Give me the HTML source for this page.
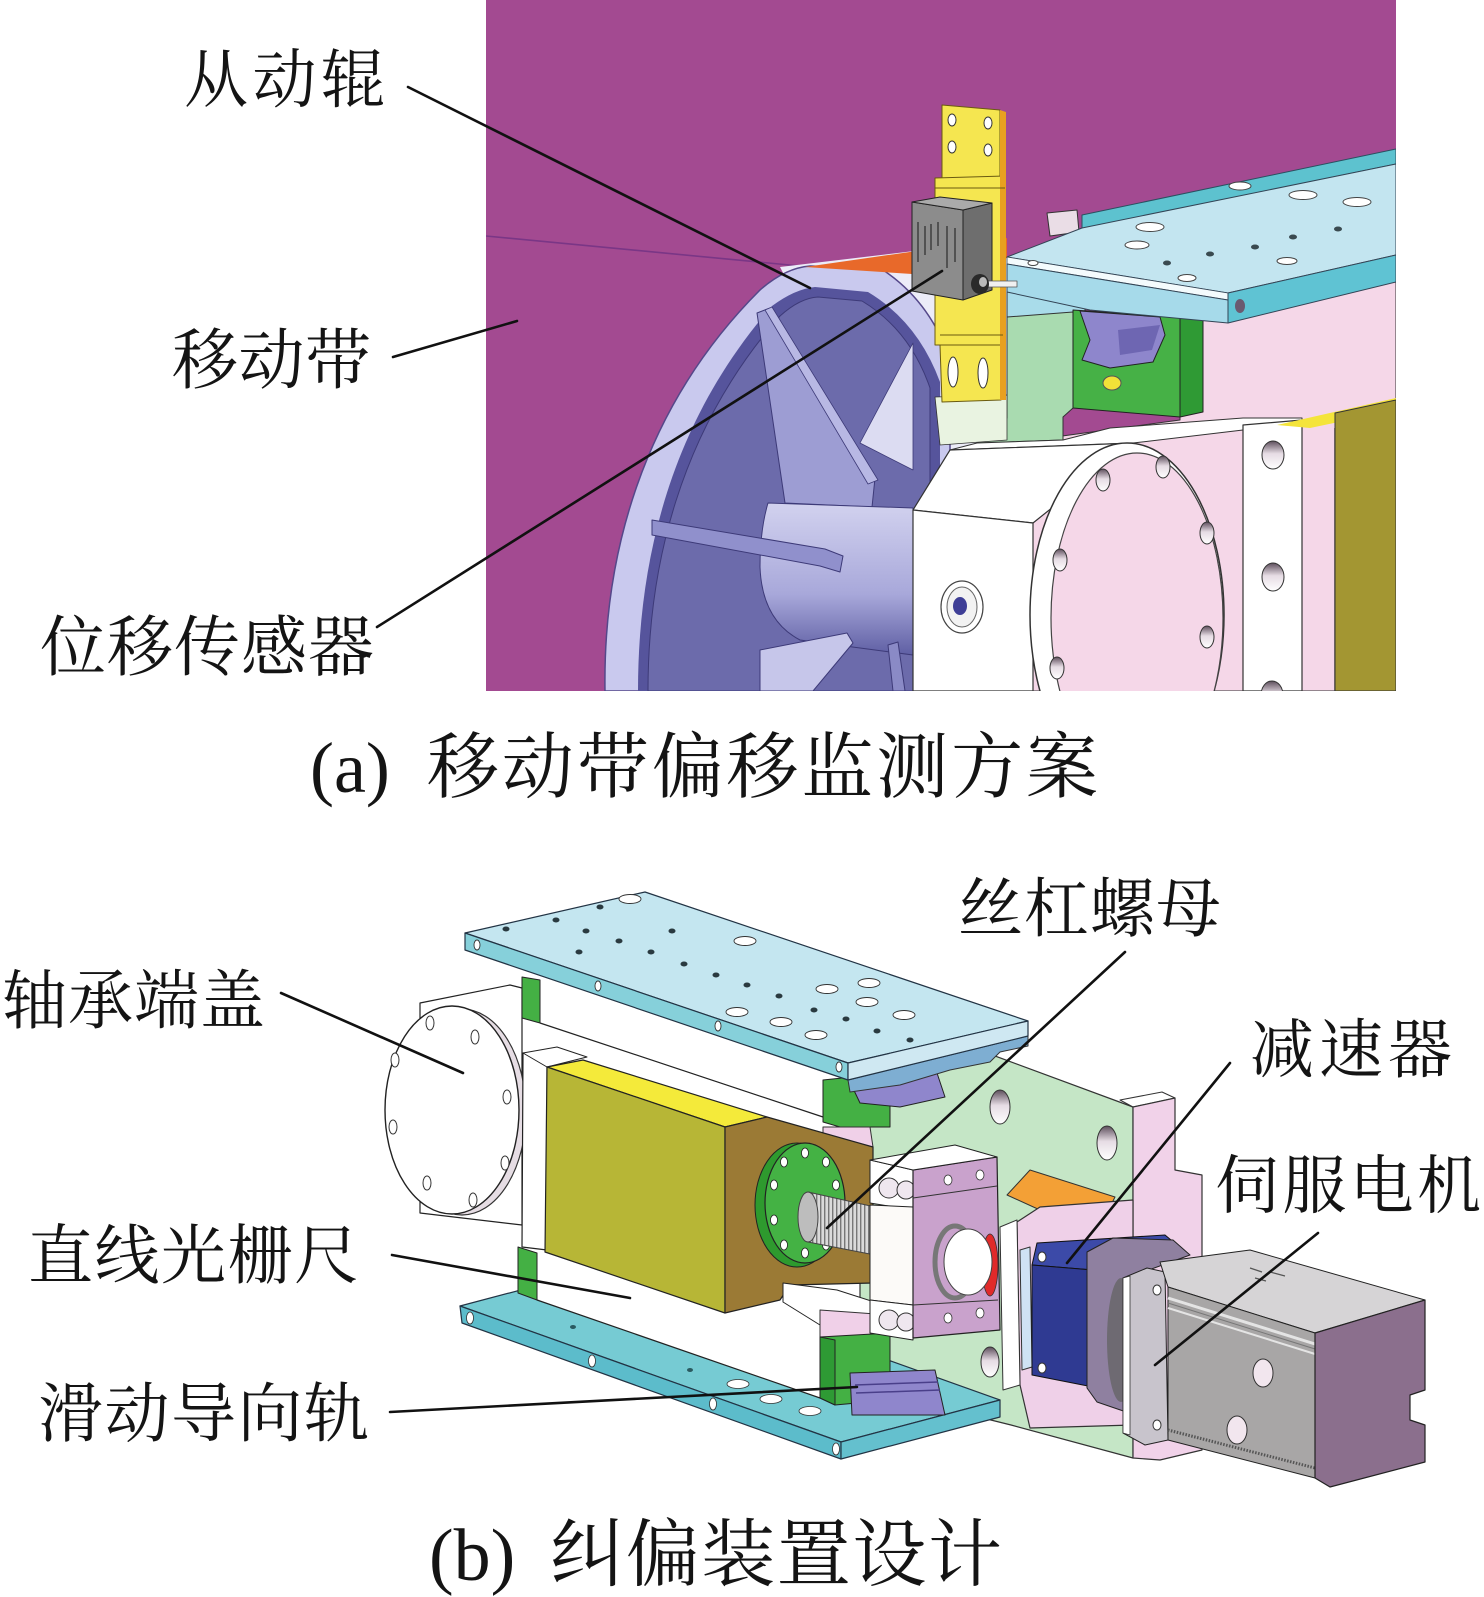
<!DOCTYPE html>
<html><head><meta charset="utf-8"><style>
html,body{margin:0;padding:0;background:#fff}
svg{display:block}
.t{font-family:"Liberation Serif","Noto Serif CJK SC",serif;fill:#141414}
</style></head><body>
<svg width="1484" height="1597" viewBox="0 0 1484 1597" xmlns="http://www.w3.org/2000/svg">
<defs>
<clipPath id="cpt"><rect x="486" y="0" width="910" height="691"/></clipPath>
<linearGradient id="hub" x1="0" y1="0" x2="0" y2="1"><stop offset="0" stop-color="#d2d2ef"/><stop offset="0.6" stop-color="#a8a8da"/><stop offset="1" stop-color="#5f5fa4"/></linearGradient>
<linearGradient id="hg" x1="0" y1="0" x2="0" y2="1"><stop offset="0" stop-color="#5d4e5c"/><stop offset="0.45" stop-color="#e6dce4"/><stop offset="1" stop-color="#fff"/></linearGradient>
<pattern id="thread" width="4" height="4" patternUnits="userSpaceOnUse"><rect width="4" height="4" fill="#dadada"/><rect width="1.4" height="4" fill="#777"/></pattern>
</defs>

<!-- ================= TOP PANEL ================= -->
<g clip-path="url(#cpt)" stroke-linejoin="round">
<rect x="486" y="0" width="910" height="691" fill="#a34a91"/>
<line x1="486" y1="236" x2="800" y2="266" stroke="#7a3686" stroke-width="1.6"/>
<polygon points="780,267 1007,240 1007,500 900,500" fill="#ececf8"/>
<!-- wheel -->
<path d="M605,691 C603,560 640,410 760,290 Q785,268 810,266 L880,268 Q930,300 950,360 L950,691 Z" fill="#c9c9ee" stroke="#55488a" stroke-width="1.5"/>
<path d="M638,691 C638,565 668,425 772,306 Q795,289 815,287 L868,292 Q918,322 940,382 L940,691 Z" fill="#56549c"/>
<path d="M648,691 C648,570 678,432 780,316 Q800,298 818,297 L862,301 Q910,330 930,388 L930,691 Z" fill="#6c6bab" stroke="#3d3a78" stroke-width="1"/>
<polygon points="757,313 770,308 875,478 872,507 785,503" fill="#9d9dd3" stroke="#3d3a78" stroke-width="1"/>
<polygon points="765,310 772,307 878,480 868,484" fill="#b8b8e4" stroke="#3d3a78" stroke-width="0.8"/>
<polygon points="860,443 913,343 913,470" fill="#dcdcf2" stroke="#3d3a78" stroke-width="0.8"/>
<path d="M768,503 L913,508 L913,655 L800,640 Q762,620 760,567 Q760,530 768,503 Z" fill="url(#hub)" stroke="#3d3a78" stroke-width="1"/>
<polygon points="652,520 825,549 843,556 840,572 820,566 652,535" fill="#9090cc" stroke="#3d3a78" stroke-width="1"/>
<polygon points="760,650 847,633 853,643 813,691 760,691" fill="#c6c6ea" stroke="#3d3a78" stroke-width="1"/>
<polygon points="888,645 898,642 905,691 893,691" fill="#8a8ac6" stroke="#3d3a78" stroke-width="1"/>
<polygon points="805,267 1007,238 1007,258 912,274" fill="#e8692a"/>
<!-- pink background -->
<polygon points="1180,300 1396,255 1396,691 1033,691 1033,440 1180,420" fill="#f5d7e8" stroke="#333" stroke-width="1"/>
<!-- under plate -->
<polygon points="1007,265 1085,270 1085,322 1007,318" fill="#a9dcea" stroke="#333" stroke-width="1"/>
<polygon points="1007,317 1073,312 1073,408 1063,417 1063,440 977,443 977,418 1007,418" fill="#a9dbb0" stroke="#333" stroke-width="1"/>
<polygon points="1073,310 1180,317 1180,417 1073,408" fill="#46b146" stroke="#222" stroke-width="1"/>
<polygon points="1180,317 1203,312 1203,412 1180,417" fill="#2f9a34" stroke="#222" stroke-width="1"/>
<polygon points="1080,311 1160,317 1165,335 1153,362 1110,368 1082,360 1090,340" fill="#8e86cc" stroke="#222" stroke-width="1"/>
<polygon points="1118,330 1160,325 1152,350 1120,355" fill="#6e66b2"/>
<ellipse cx="1112" cy="383" rx="9" ry="7" fill="#f2e238" stroke="#555" stroke-width="1"/>
<polygon points="935,397 1007,395 1007,440 940,445" fill="#e9f3e1" stroke="#333" stroke-width="0.8"/>
<polygon points="950,450 977,443 1063,440 1110,428 1243,418 1302,418 1302,428 1243,430 1133,443" fill="#fff" stroke="#333" stroke-width="1"/>
<!-- plate -->
<polygon points="1082,215 1396,149 1396,164 1082,229" fill="#5dc2cf" stroke="#2a5060" stroke-width="1"/>
<polygon points="1047,213 1077,210 1079,232 1050,236" fill="#eadde6" stroke="#333" stroke-width="1"/>
<polygon points="1007,257 1082,228 1396,164 1396,255 1228,293" fill="#c3e5f0" stroke="#345" stroke-width="1"/>
<polygon points="1007,257 1228,293 1228,300 1007,264" fill="#f4fbfd" stroke="#345" stroke-width="0.8"/>
<polygon points="1007,264 1228,300 1228,323 1090,310 1007,292" fill="#a6daea" stroke="#345" stroke-width="1"/>
<polygon points="1228,293 1396,255 1396,282 1228,323" fill="#5fc3d3" stroke="#345" stroke-width="1"/>
<ellipse cx="1240" cy="306" rx="5" ry="7" fill="#6a5a70"/>
<g fill="#fff" stroke="#444" stroke-width="1">
<ellipse cx="1150" cy="227" rx="14" ry="4.5"/><ellipse cx="1303" cy="195" rx="14" ry="4.5"/><ellipse cx="1357" cy="202" rx="14" ry="4.5"/>
<ellipse cx="1137" cy="245" rx="12" ry="4"/><ellipse cx="1287" cy="261" rx="10" ry="3.5"/><ellipse cx="1187" cy="278" rx="9" ry="3.5"/>
<ellipse cx="1240" cy="186" rx="11" ry="4"/><ellipse cx="1033" cy="263" rx="5" ry="2.5"/>
</g>
<g fill="#3a4a50">
<ellipse cx="1255" cy="247" rx="4" ry="2.5"/><ellipse cx="1338" cy="229" rx="4" ry="2.5"/><ellipse cx="1210" cy="254" rx="4" ry="2.5"/>
<ellipse cx="1167" cy="263" rx="4" ry="2.5"/><ellipse cx="1293" cy="237" rx="4" ry="2.5"/>
</g>
<!-- right column -->
<polygon points="1243,425 1302,420 1302,691 1243,691" fill="#fff" stroke="#333" stroke-width="1.2"/>
<line x1="1335" y1="428" x2="1335" y2="691" stroke="#444" stroke-width="1.5"/>
<ellipse cx="1273" cy="455" rx="11" ry="14" fill="url(#hg)" stroke="#333" stroke-width="1"/>
<ellipse cx="1273" cy="577" rx="11" ry="14" fill="url(#hg)" stroke="#333" stroke-width="1"/>
<ellipse cx="1272" cy="695" rx="11" ry="14" fill="url(#hg)" stroke="#333" stroke-width="1"/>
<polygon points="1277,425 1396,398 1396,410 1310,428" fill="#f4e43a"/>
<polygon points="1335,413 1396,400 1396,691 1335,691" fill="#a39632" stroke="#333" stroke-width="1"/>
<!-- housing -->
<polygon points="913,510 950,450 1133,443 1033,523" fill="#fff" stroke="#333" stroke-width="1.2"/>
<polygon points="913,510 1033,523 1033,691 913,691" fill="#fff" stroke="#333" stroke-width="1.2"/>
<ellipse cx="1127" cy="615" rx="97" ry="172" fill="#fff" stroke="#333" stroke-width="1.5"/>
<ellipse cx="1137" cy="618" rx="86" ry="165" fill="#f5d7e8" stroke="#444" stroke-width="1.2"/>
<g fill="url(#hg)" stroke="#333" stroke-width="1">
<ellipse cx="1103" cy="480" rx="7" ry="11"/><ellipse cx="1163" cy="467" rx="7" ry="11"/><ellipse cx="1207" cy="533" rx="7" ry="11"/>
<ellipse cx="1060" cy="560" rx="7" ry="11"/><ellipse cx="1207" cy="637" rx="7" ry="11"/><ellipse cx="1057" cy="668" rx="7" ry="11"/>
</g>
<ellipse cx="962" cy="607" rx="21" ry="26" fill="#fff" stroke="#444" stroke-width="1.2"/>
<ellipse cx="962" cy="607" rx="15" ry="20" fill="#f2f2f2" stroke="#666" stroke-width="1"/>
<ellipse cx="960" cy="606" rx="7" ry="9" fill="#3e3e96"/>
<!-- bracket -->
<polygon points="942,105 1000,110 1000,180 942,180" fill="#f5e650" stroke="#6a5a10" stroke-width="1"/>
<polygon points="935,178 1005,176 1005,345 935,345" fill="#f5e650" stroke="#6a5a10" stroke-width="1"/>
<polygon points="940,345 1001,345 1001,400 942,402" fill="#f5e650" stroke="#6a5a10" stroke-width="1"/>
<polygon points="1000,110 1006,112 1006,400 1000,400" fill="#e8a020"/>
<line x1="935" y1="188" x2="1005" y2="188" stroke="#6a5a10" stroke-width="1"/>
<line x1="940" y1="335" x2="1003" y2="335" stroke="#6a5a10" stroke-width="1"/>
<g fill="#fff" stroke="#333" stroke-width="1">
<ellipse cx="952" cy="120" rx="4" ry="6"/><ellipse cx="988" cy="123" rx="4" ry="6"/>
<ellipse cx="952" cy="147" rx="4" ry="6"/><ellipse cx="988" cy="150" rx="4" ry="6"/>
<ellipse cx="953" cy="372" rx="5" ry="15"/><ellipse cx="983" cy="373" rx="5" ry="15"/>
</g>
<!-- sensor -->
<polygon points="912,202 963,210 963,300 912,291" fill="#8c8c8c" stroke="#222" stroke-width="1"/>
<polygon points="963,210 992,203 992,290 963,300" fill="#6e6e6e" stroke="#222" stroke-width="1"/>
<polygon points="912,202 940,197 992,203 963,210" fill="#aaa" stroke="#222" stroke-width="1"/>
<g stroke="#333" stroke-width="1.3">
<line x1="918" y1="222" x2="918" y2="262"/><line x1="925" y1="226" x2="925" y2="255"/><line x1="931" y1="224" x2="931" y2="250"/>
<line x1="938" y1="222" x2="938" y2="246"/><line x1="947" y1="226" x2="947" y2="268"/><line x1="955" y1="228" x2="955" y2="262"/>
</g>
<rect x="985" y="281" width="32" height="6" fill="#f0f0f0" stroke="#555" stroke-width="0.8"/>
<ellipse cx="980" cy="284" rx="9" ry="10" fill="#2a2a2a"/>
<ellipse cx="983" cy="282" rx="4" ry="5" fill="#bbb"/>
</g>

<!-- top leader lines -->
<g stroke="#111" stroke-width="2.6" stroke-linecap="round">
<line x1="408" y1="87" x2="810" y2="288"/>
<line x1="393" y1="357" x2="517" y2="321"/>
<line x1="377" y1="627" x2="942" y2="271"/>
</g>

<!-- ================= BOTTOM PANEL ================= -->
<g stroke-linejoin="round">
<!-- green plate -->
<polygon points="960,1043 1133,1107 1133,1458 1011,1425 890,1395 860,1330 860,1110 920,1080" fill="#c5e6c6" stroke="#333" stroke-width="1.2"/>
<polygon points="1133,1107 1120,1100 1162,1092 1175,1098" fill="#fff" stroke="#333" stroke-width="1"/>
<polygon points="1133,1107 1175,1098 1175,1170 1202,1175 1202,1450 1160,1460 1133,1458" fill="#f1d2e9" stroke="#333" stroke-width="1.2"/>
<g fill="url(#hg)" stroke="#333" stroke-width="1">
<ellipse cx="1000" cy="1107" rx="10" ry="17"/><ellipse cx="1107" cy="1143" rx="10" ry="17"/>
<ellipse cx="990" cy="1362" rx="9" ry="15"/>
</g>
<!-- bottom plate -->
<polygon points="460,1306 619,1264 1000,1400 841,1442" fill="#76cbd3" stroke="#234" stroke-width="1.2"/>
<polygon points="460,1306 841,1442 841,1459 462,1323" fill="#5cbccb" stroke="#234" stroke-width="1.2"/>
<polygon points="841,1442 1000,1400 1000,1417 841,1459" fill="#64c0ce" stroke="#234" stroke-width="1.2"/>
<g fill="#fff" stroke="#333" stroke-width="0.8">
<ellipse cx="470" cy="1318" rx="3.5" ry="6"/><ellipse cx="592" cy="1361" rx="3.5" ry="6"/><ellipse cx="713" cy="1404" rx="3.5" ry="6"/><ellipse cx="836" cy="1449" rx="3.5" ry="6"/>
<ellipse cx="738" cy="1384" rx="11" ry="4.5"/><ellipse cx="771" cy="1399" rx="11" ry="4.5"/><ellipse cx="810" cy="1411" rx="11" ry="4.5"/>
</g>
<g fill="#2a5a60"><ellipse cx="573" cy="1327" rx="3" ry="2"/><ellipse cx="690" cy="1370" rx="3" ry="2"/></g>
<!-- white box lower region covering back of bottom plate -->
<polygon points="537,1250 725,1313 790,1285 820,1290 820,1398 537,1300" fill="#fff"/>
<line x1="537" y1="1300" x2="820" y2="1398" stroke="#222" stroke-width="1.2"/>
<!-- under top plate -->
<polygon points="823,1080 890,1073 890,1127 840,1127 823,1122" fill="#44b044" stroke="#222" stroke-width="1"/>
<polygon points="850,1082 935,1067 945,1097 900,1107 860,1103" fill="#8f86cc" stroke="#222" stroke-width="1"/>
<polygon points="823,1127 870,1127 873,1147 823,1140" fill="#f0d0e8" stroke="#333" stroke-width="1"/>
<polygon points="848,1080 1028,1036 1028,1046 1000,1052 990,1062 950,1070 900,1085 850,1092" fill="#7eaed2" stroke="#333" stroke-width="1"/>
<!-- bearing cover box -->
<polygon points="420,1003 510,985 522,988 522,1225 420,1213" fill="#fff" stroke="#222" stroke-width="1.2"/>
<ellipse cx="462" cy="1112" rx="64" ry="103" fill="#e6dde4" stroke="#333" stroke-width="1.2"/>
<ellipse cx="452" cy="1110" rx="67" ry="104" fill="#fff" stroke="#222" stroke-width="1.4"/>
<g fill="#fff" stroke="#333" stroke-width="1">
<ellipse cx="430" cy="1023" rx="4" ry="7"/><ellipse cx="475" cy="1037" rx="4" ry="7"/><ellipse cx="395" cy="1060" rx="4" ry="7"/>
<ellipse cx="507" cy="1097" rx="4" ry="7"/><ellipse cx="393" cy="1127" rx="4" ry="7"/><ellipse cx="505" cy="1163" rx="4" ry="7"/>
<ellipse cx="427" cy="1183" rx="4" ry="7"/><ellipse cx="473" cy="1200" rx="4" ry="7"/>
</g>
<!-- frame -->
<line x1="540" y1="1023" x2="823" y2="1117" stroke="#222" stroke-width="1.2"/>
<polygon points="522,977 540,980 540,1023 522,1018" fill="#44b044" stroke="#222" stroke-width="1"/>
<polygon points="523,1053 547,1057 547,1250 522,1247" fill="#fff" stroke="#222" stroke-width="1.2"/>
<polygon points="523,1053 557,1047 587,1057 547,1067" fill="#fff" stroke="#222" stroke-width="1"/>
<polygon points="518,1247 537,1253 537,1300 518,1293" fill="#44b044" stroke="#222" stroke-width="1"/>
<!-- olive block -->
<polygon points="547,1067 583,1060 767,1117 725,1127" fill="#f4ea3a" stroke="#222" stroke-width="1.2"/>
<polygon points="547,1067 725,1127 725,1313 545,1252" fill="#b7b636" stroke="#222" stroke-width="1.2"/>
<polygon points="725,1127 767,1117 873,1147 873,1283 790,1285 780,1300 725,1313" fill="#9b7a35" stroke="#222" stroke-width="1.2"/>
<ellipse cx="797" cy="1205" rx="42" ry="62" fill="#2e9a2e" stroke="#222" stroke-width="1"/>
<ellipse cx="805" cy="1203" rx="40" ry="60" fill="#44b244" stroke="#222" stroke-width="1.2"/>
<g fill="#fff" stroke="#222" stroke-width="0.8">
<ellipse cx="805" cy="1153" rx="3.5" ry="5"/><ellipse cx="826" cy="1162" rx="3.5" ry="5"/><ellipse cx="836" cy="1185" rx="3.5" ry="5"/>
<ellipse cx="836" cy="1220" rx="3.5" ry="5"/><ellipse cx="826" cy="1245" rx="3.5" ry="5"/><ellipse cx="805" cy="1253" rx="3.5" ry="5"/>
<ellipse cx="784" cy="1245" rx="3.5" ry="5"/><ellipse cx="774" cy="1220" rx="3.5" ry="5"/><ellipse cx="774" cy="1185" rx="3.5" ry="5"/><ellipse cx="784" cy="1162" rx="3.5" ry="5"/>
</g>
<polygon points="808,1192 875,1207 875,1255 808,1242" fill="url(#thread)" stroke="#444" stroke-width="1"/>
<ellipse cx="808" cy="1217" rx="10" ry="25" fill="#bdbdbd" stroke="#444" stroke-width="1"/>
<polygon points="783,1283 837,1290 890,1307 890,1322 820,1325 783,1302" fill="#fff" stroke="#222" stroke-width="1"/>
<polygon points="820,1310 890,1315 890,1337 820,1337" fill="#f0d0e8" stroke="#333" stroke-width="1"/>
<polygon points="820,1337 890,1333 890,1400 835,1405 820,1398" fill="#44b044" stroke="#222" stroke-width="1"/>
<polygon points="820,1337 835,1340 835,1405 820,1398" fill="#2e9a34" stroke="#222" stroke-width="1"/>
<polygon points="850,1373 935,1370 945,1415 852,1415" fill="#8f86cc" stroke="#222" stroke-width="1"/>
<line x1="855" y1="1385" x2="938" y2="1382" stroke="#4a3f8a" stroke-width="1.5"/>
<line x1="856" y1="1393" x2="940" y2="1390" stroke="#4a3f8a" stroke-width="1.5"/>
<!-- bearing block -->
<polygon points="870,1160 913,1170 913,1210 870,1203" fill="#fff" stroke="#222" stroke-width="1"/>
<circle cx="889" cy="1188" r="10" fill="#efe7ef" stroke="#333" stroke-width="1"/>
<circle cx="906" cy="1190" r="9" fill="#efe7ef" stroke="#333" stroke-width="1"/>
<polygon points="870,1205 913,1207 913,1305 870,1300" fill="#fcfaf8" stroke="#222" stroke-width="1"/>
<polygon points="870,1300 913,1305 913,1340 870,1333" fill="#fff" stroke="#222" stroke-width="1"/>
<circle cx="889" cy="1320" r="10" fill="#efe7ef" stroke="#333" stroke-width="1"/>
<circle cx="906" cy="1322" r="9" fill="#efe7ef" stroke="#333" stroke-width="1"/>
<polygon points="913,1170 997,1157 1000,1330 913,1338" fill="#c9a2cc" stroke="#222" stroke-width="1.2"/>
<polygon points="870,1160 955,1145 997,1157 913,1170" fill="#fff" stroke="#222" stroke-width="1"/>
<line x1="913" y1="1198" x2="997" y2="1186" stroke="#333" stroke-width="1"/>
<line x1="913" y1="1305" x2="998" y2="1300" stroke="#333" stroke-width="1"/>
<g fill="#fff" stroke="#333" stroke-width="0.8">
<ellipse cx="948" cy="1180" rx="4" ry="5"/><ellipse cx="980" cy="1175" rx="4" ry="5"/><ellipse cx="948" cy="1318" rx="4" ry="5"/><ellipse cx="980" cy="1313" rx="4" ry="5"/>
</g>
<ellipse cx="955" cy="1262" rx="20" ry="36" fill="none" stroke="#777" stroke-width="5"/>
<ellipse cx="990" cy="1265" rx="8" ry="31" fill="#e02a2a" stroke="#333" stroke-width="0.8"/>
<ellipse cx="968" cy="1262" rx="24" ry="33" fill="#fff" stroke="#444" stroke-width="1"/>
<!-- orange -->
<polygon points="1007,1195 1030,1170 1115,1197 1110,1207 1040,1210" fill="#f3a036" stroke="#333" stroke-width="1"/>
<!-- pink frame -->
<polygon points="1017,1222 1040,1207 1133,1200 1133,1425 1030,1428 1020,1385" fill="#efd0e8" stroke="#333" stroke-width="1.2"/>
<polygon points="1000,1227 1017,1220 1020,1385 1003,1390" fill="#fff" stroke="#333" stroke-width="1"/>
<polygon points="1020,1250 1030,1247 1032,1367 1022,1370" fill="#cfe2f4" stroke="#333" stroke-width="1"/>
<!-- gearbox -->
<polygon points="1037,1243 1165,1235 1183,1250 1093,1270 1032,1265" fill="#3c4aa8" stroke="#111" stroke-width="1"/>
<polygon points="1032,1265 1093,1270 1093,1387 1032,1375" fill="#2f3a92" stroke="#111" stroke-width="1"/>
<ellipse cx="1042" cy="1257" rx="4" ry="5" fill="#fff" stroke="#333"/>
<ellipse cx="1042" cy="1368" rx="4" ry="5" fill="#fff" stroke="#333"/>
<polygon points="1087,1252 1113,1238 1173,1240 1190,1255 1135,1275 1135,1415 1097,1402 1087,1388" fill="#8f80a0" stroke="#222" stroke-width="1"/>
<ellipse cx="1121" cy="1340" rx="14" ry="62" fill="#6e6a72"/>
<!-- motor -->
<polygon points="1123,1278 1147,1268 1165,1272 1168,1440 1145,1445 1123,1433" fill="#c8c4cc" stroke="#222" stroke-width="1"/>
<polygon points="1123,1278 1130,1276 1130,1435 1123,1433" fill="#fff" stroke="#333" stroke-width="0.8"/>
<ellipse cx="1157" cy="1290" rx="4" ry="5" fill="#fff" stroke="#333"/>
<ellipse cx="1157" cy="1425" rx="4" ry="5" fill="#fff" stroke="#333"/>
<polygon points="1160,1262 1250,1250 1425,1300 1315,1333 1168,1287" fill="#d6d4d6" stroke="#222" stroke-width="1"/>
<polygon points="1168,1287 1315,1333 1315,1478 1168,1440" fill="#a8a6a6" stroke="#222" stroke-width="1"/>
<line x1="1168" y1="1298" x2="1315" y2="1344" stroke="#e4e4e4" stroke-width="3"/>
<line x1="1168" y1="1308" x2="1315" y2="1354" stroke="#e4e4e4" stroke-width="2"/>
<line x1="1168" y1="1303" x2="1315" y2="1349" stroke="#777" stroke-width="1"/>
<line x1="1168" y1="1430" x2="1315" y2="1468" stroke="#555" stroke-width="3" stroke-dasharray="1.5 1.5"/>
<polygon points="1315,1333 1425,1300 1425,1390 1410,1395 1410,1420 1425,1425 1425,1462 1330,1487 1315,1478" fill="#8b6f8d" stroke="#222" stroke-width="1.2"/>
<ellipse cx="1263" cy="1373" rx="10" ry="14" fill="#f2e6ee" stroke="#333" stroke-width="1"/>
<ellipse cx="1237" cy="1430" rx="10" ry="14" fill="#f2e6ee" stroke="#333" stroke-width="1"/>
<g stroke="#555" stroke-width="1.3"><line x1="1250" y1="1268" x2="1262" y2="1272"/><line x1="1270" y1="1272" x2="1285" y2="1276"/><line x1="1255" y1="1278" x2="1266" y2="1281"/></g>
<!-- top plate -->
<polygon points="465,933 645,892 1028,1021 848,1063" fill="#c4e6f0" stroke="#234" stroke-width="1.2"/>
<polygon points="465,933 848,1063 848,1080 465,950" fill="#86d0da" stroke="#234" stroke-width="1.2"/>
<polygon points="848,1063 1028,1021 1028,1036 848,1080" fill="#cfe8f2" stroke="#234" stroke-width="1.2"/>
<g fill="#fff" stroke="#333" stroke-width="0.9">
<ellipse cx="630" cy="899" rx="11" ry="4.5"/><ellipse cx="745" cy="941" rx="11" ry="4.5"/><ellipse cx="827" cy="989" rx="11" ry="4.5"/>
<ellipse cx="869" cy="983" rx="11" ry="4.5"/><ellipse cx="867" cy="1002" rx="11" ry="4.5"/><ellipse cx="904" cy="1015" rx="11" ry="4.5"/>
<ellipse cx="737" cy="1012" rx="11" ry="4.5"/><ellipse cx="781" cy="1022" rx="11" ry="4.5"/><ellipse cx="816" cy="1035" rx="11" ry="4.5"/>
<ellipse cx="477" cy="945" rx="3" ry="5"/><ellipse cx="598" cy="986" rx="3" ry="5"/><ellipse cx="718" cy="1026" rx="3" ry="5"/><ellipse cx="839" cy="1067" rx="3" ry="5"/>
</g>
<g fill="#2a3a40">
<ellipse cx="600" cy="907" rx="3.5" ry="2.5"/><ellipse cx="556" cy="920" rx="3.5" ry="2.5"/><ellipse cx="506" cy="929" rx="3.5" ry="2.5"/>
<ellipse cx="586" cy="931" rx="3.5" ry="2.5"/><ellipse cx="619" cy="941" rx="3.5" ry="2.5"/><ellipse cx="672" cy="931" rx="3.5" ry="2.5"/>
<ellipse cx="579" cy="952" rx="3.5" ry="2.5"/><ellipse cx="651" cy="952" rx="3.5" ry="2.5"/><ellipse cx="684" cy="964" rx="3.5" ry="2.5"/>
<ellipse cx="716" cy="975" rx="3.5" ry="2.5"/><ellipse cx="747" cy="985" rx="3.5" ry="2.5"/><ellipse cx="779" cy="996" rx="3.5" ry="2.5"/>
<ellipse cx="846" cy="1019" rx="3.5" ry="2.5"/><ellipse cx="814" cy="1010" rx="3.5" ry="2.5"/><ellipse cx="877" cy="1031" rx="3.5" ry="2.5"/><ellipse cx="910" cy="1040" rx="3.5" ry="2.5"/>
</g>
</g>

<!-- bottom leader lines -->
<g stroke="#111" stroke-width="2.6" stroke-linecap="round">
<line x1="281" y1="993" x2="463" y2="1073"/>
<line x1="392" y1="1255" x2="630" y2="1298"/>
<line x1="390" y1="1412" x2="857" y2="1387"/>
<line x1="1125" y1="952" x2="827" y2="1228"/>
<line x1="1230" y1="1063" x2="1067" y2="1263"/>
<line x1="1318" y1="1233" x2="1155" y2="1365"/>
</g>

<!-- labels -->
<text class="t" x="184" y="102" font-size="64" textLength="201" lengthAdjust="spacing">从动辊</text>
<text class="t" x="172" y="383" font-size="66" textLength="199" lengthAdjust="spacing">移动带</text>
<text class="t" x="40" y="670" font-size="66" textLength="334" lengthAdjust="spacing">位移传感器</text>
<text class="t" x="310" y="792" font-size="72">(a)</text>
<text class="t" x="427" y="792" font-size="72" textLength="671" lengthAdjust="spacing">移动带偏移监测方案</text>
<text class="t" x="958" y="931" font-size="65" textLength="263" lengthAdjust="spacing">丝杠螺母</text>
<text class="t" x="2" y="1023" font-size="65" textLength="263" lengthAdjust="spacing">轴承端盖</text>
<text class="t" x="1250" y="1072" font-size="64" textLength="202" lengthAdjust="spacing">减速器</text>
<text class="t" x="1215" y="1208" font-size="64" textLength="266" lengthAdjust="spacing">伺服电机</text>
<text class="t" x="28" y="1278" font-size="65" textLength="331" lengthAdjust="spacing">直线光栅尺</text>
<text class="t" x="38" y="1436" font-size="65" textLength="331" lengthAdjust="spacing">滑动导向轨</text>
<text class="t" x="429" y="1580" font-size="74">(b)</text>
<text class="t" x="550" y="1580" font-size="74" textLength="452" lengthAdjust="spacing">纠偏装置设计</text>
</svg>
</body></html>
